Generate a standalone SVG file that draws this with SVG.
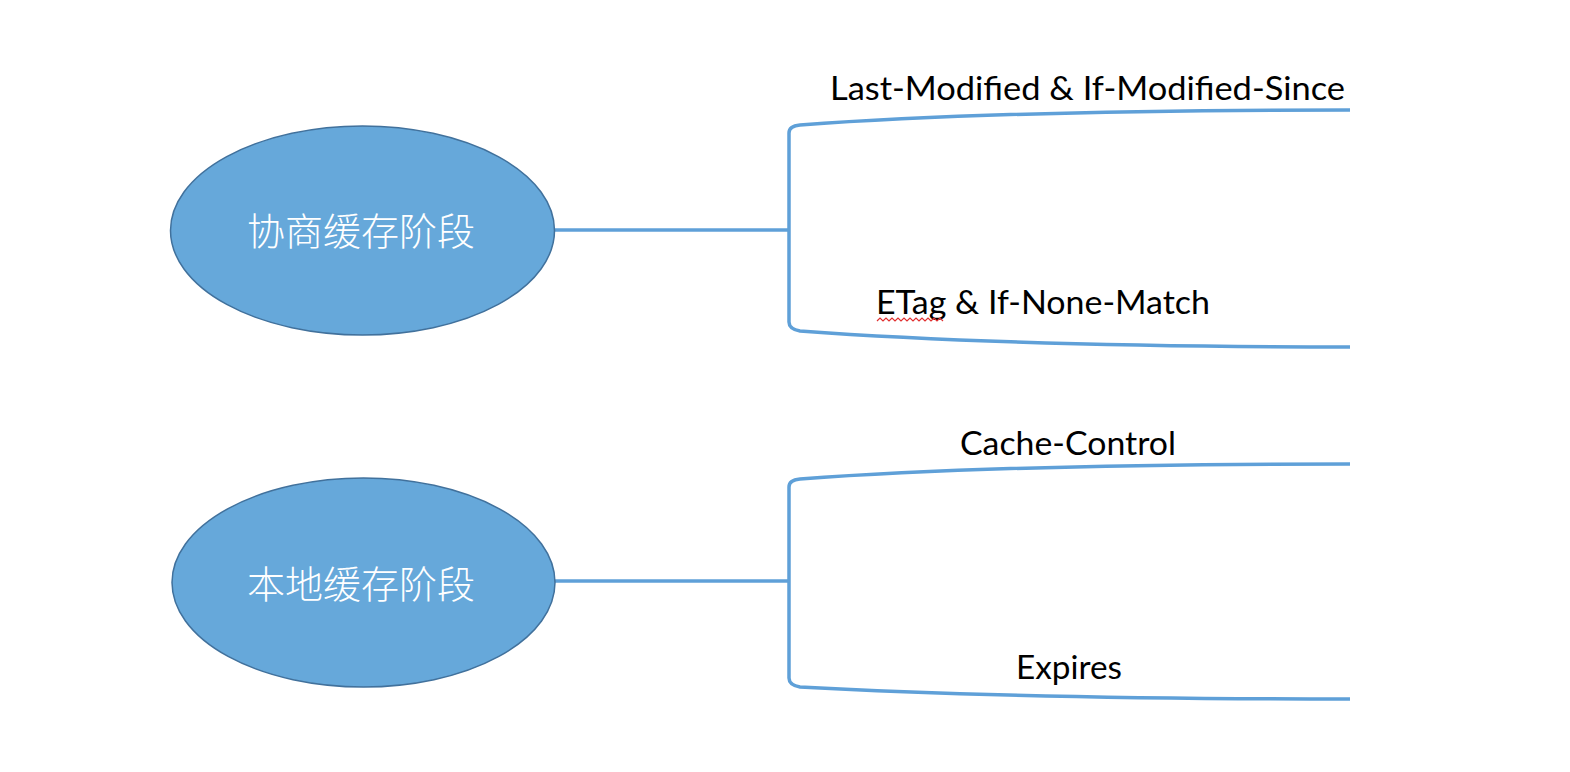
<svg xmlns="http://www.w3.org/2000/svg" width="1570" height="772" viewBox="0 0 1570 772">
<style>
.node ellipse{fill:#66a8da;stroke:#41719c;stroke-width:1.5}
.node text{fill:#ffffff;font-family:"Noto Sans CJK SC","Noto Sans",sans-serif;font-size:38px;font-weight:300;text-anchor:middle}
.conn path{fill:none;stroke:#5fa0d8;stroke-width:3.5}
.lbl{fill:#000000;font-family:Lato,"Liberation Sans",sans-serif;font-size:33px}
</style>
<rect width="1570" height="772" fill="#ffffff"/>
<g id="connectors" class="conn">
<path d="M555,230 L789,230"/>
<path d="M1350,110 C1150,110 950,114 800,125 Q789,126 789,133 L789,322 Q789,329 800,331 C950,342 1150,347 1350,347"/>
<path d="M555,581 L789,581"/>
<path d="M1350,464 C1150,464 950,468 800,479 Q789,480 789,487 L789,678 Q789,685 800,687 C950,695 1150,699 1350,699"/>
</g>
<g id="node-negotiate" class="node">
<ellipse cx="362.5" cy="230.5" rx="192" ry="104.5"/>
<text x="361" y="245">协商缓存阶段</text>
</g>
<g id="node-local" class="node">
<ellipse cx="363.5" cy="582.5" rx="191.5" ry="104.5"/>
<text x="361" y="598">本地缓存阶段</text>
</g>
<g id="label-lastmod">
<text class="lbl" x="830" y="100" textLength="515" lengthAdjust="spacingAndGlyphs">Last-Modified &amp; If-Modified-Since</text>
</g>
<g id="label-etag">
<text class="lbl" x="876" y="314" textLength="334" lengthAdjust="spacingAndGlyphs">ETag &amp; If-None-Match</text>
<path d="M877,321 l3,-3 l3,3 l3,-3 l3,3 l3,-3 l3,3 l3,-3 l3,3 l3,-3 l3,3 l3,-3 l3,3 l3,-3 l3,3 l3,-3 l3,3 l3,-3 l3,3 l3,-3 l3,3 l3,-3 l3,3" fill="none" stroke="#e03030" stroke-width="1.2"/>
</g>
<g id="label-cachecontrol">
<text class="lbl" x="960" y="455" textLength="216" lengthAdjust="spacingAndGlyphs">Cache-Control</text>
</g>
<g id="label-expires">
<text class="lbl" x="1016" y="679" textLength="106" lengthAdjust="spacingAndGlyphs">Expires</text>
</g>
</svg>
